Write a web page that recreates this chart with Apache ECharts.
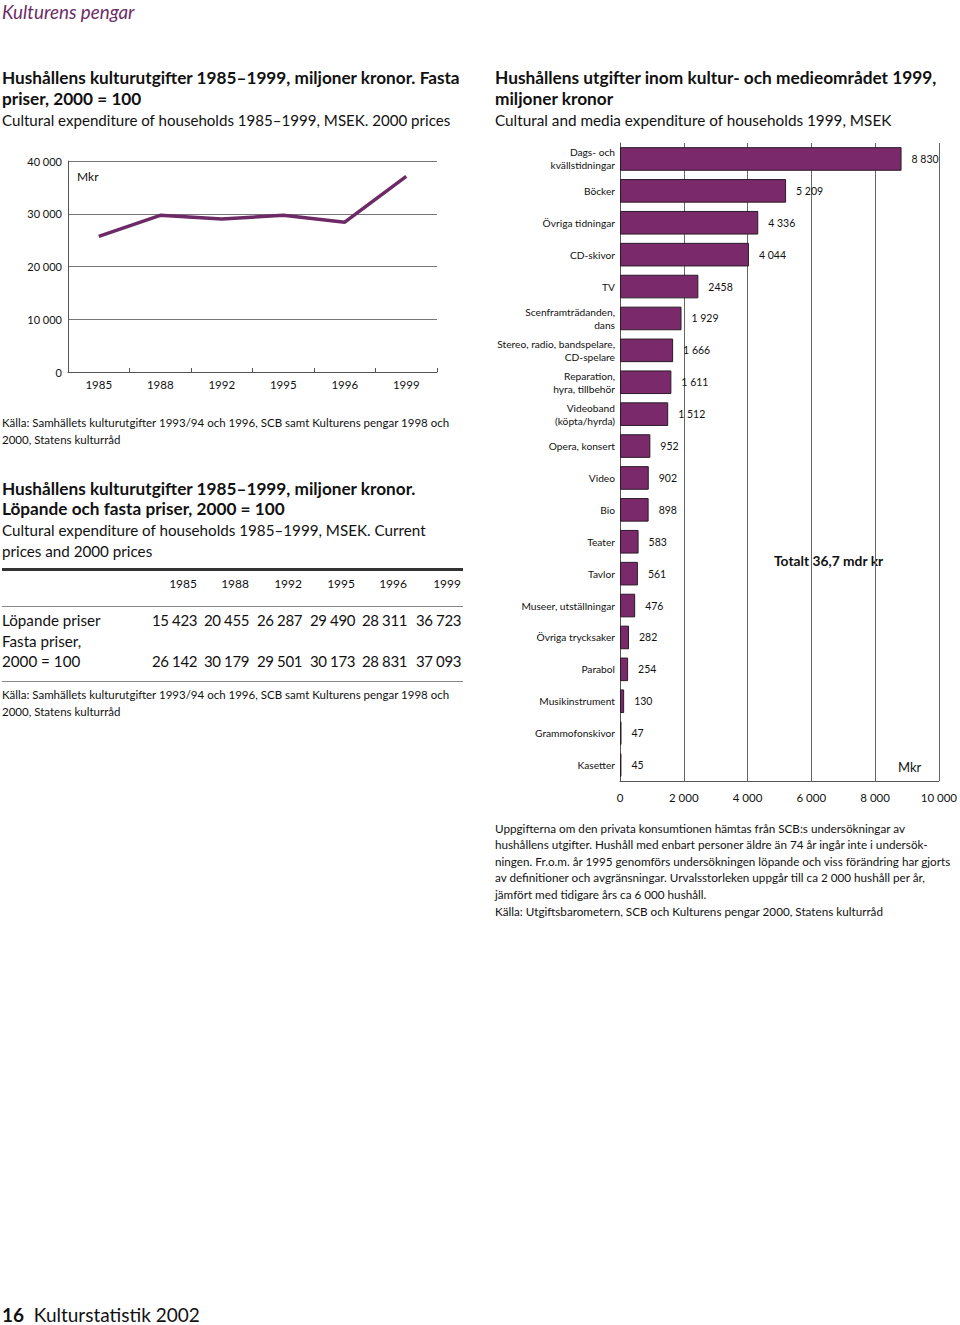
<!DOCTYPE html>
<html>
<head>
<meta charset="utf-8">
<script src="https://cdn.jsdelivr.net/npm/echarts@6/dist/echarts.min.js"></script>
<style>
  html, body { margin:0; padding:0; background:#fff; }
  #page { position:relative; width:960px; height:1325px; overflow:hidden; font-family: Lato, "Open Sans", sans-serif; color:#111; }
  #chart { position:absolute; left:0; top:0; width:960px; height:1325px; }
  .t { position:absolute; white-space:nowrap; }
  .b { font-weight:700; }
  .rule { position:absolute; left:2px; width:461px; background:#333; }
</style>
</head>
<body>
<div id="page">
  <div id="chart"></div>
  <div class="t" style="left:2px;top:0px;font-size:18.8px;line-height:24px;font-style:italic;color:#6c2c68;">Kulturens pengar</div>

  <div class="t" style="left:2px;top:66.5px;font-size:17.2px;line-height:21px;">
    <span class="b">Hushållens kulturutgifter 1985–1999, miljoner kronor. Fasta</span><br>
    <span class="b">priser, 2000 = 100</span><br>
    <span style="font-size:15.1px;">Cultural expenditure of households 1985–1999, MSEK. 2000 prices</span>
  </div>

  <div class="t" style="left:495px;top:66.5px;font-size:17.3px;line-height:21px;">
    <span class="b">Hushållens utgifter inom kultur- och medieområdet 1999,</span><br>
    <span class="b">miljoner kronor</span><br>
    <span style="font-size:15.3px;">Cultural and media expenditure of households 1999, MSEK</span>
  </div>

  <div class="t" style="left:2px;top:413.5px;font-size:11.5px;line-height:17px;">Källa: Samhällets kulturutgifter 1993/94 och 1996, SCB samt Kulturens pengar 1998 och<br>2000, Statens kulturråd</div>

  <div class="t" style="left:2px;top:478.5px;font-size:17.2px;line-height:20.7px;">
    <span class="b">Hushållens kulturutgifter 1985–1999, miljoner kronor.</span><br>
    <span class="b">Löpande och fasta priser, 2000 = 100</span><br>
    <span style="font-size:15.2px;">Cultural expenditure of households 1985–1999, MSEK. Current</span><br>
    <span style="font-size:15.2px;">prices and 2000 prices</span>
  </div>

  <div class="rule" style="top:567.5px;height:3px;"></div>
  <div class="rule" style="top:605.5px;height:1px;background:#888;"></div>
  <div class="rule" style="top:680.5px;height:1px;background:#888;"></div>
  <div id="table"></div>

  <div class="t" style="left:2px;top:685.5px;font-size:11.5px;line-height:17px;">Källa: Samhällets kulturutgifter 1993/94 och 1996, SCB samt Kulturens pengar 1998 och<br>2000, Statens kulturråd</div>

  <div class="t" style="left:495px;top:819.7px;font-size:11.7px;line-height:16.6px;">Uppgifterna om den privata konsumtionen hämtas från SCB:s undersökningar av<br>hushållens utgifter. Hushåll med enbart personer äldre än 74 år ingår inte i undersök-<br>ningen. Fr.o.m. år 1995 genomförs undersökningen löpande och viss förändring har gjorts<br>av definitioner och avgränsningar. Urvalsstorleken uppgår till ca 2 000 hushåll per år,<br>jämfört med tidigare års ca 6 000 hushåll.<br>Källa: Utgiftsbarometern, SCB och Kulturens pengar 2000, Statens kulturråd</div>

  <div class="t" style="left:2px;top:1305px;font-size:19px;line-height:20px;"><span class="b">16</span>&nbsp; Kulturstatistik 2002</div>
</div>
<script>
// ---- Data ----
const lineYears = ['1985', '1988', '1992', '1995', '1996', '1999'];
const lineValues = [25700, 29700, 29000, 29700, 28400, 37100];
const lineYTicks = [0, 10000, 20000, 30000, 40000];

const barCategories = [
  'Dags- och\nkvällstidningar', 'Böcker', 'Övriga tidningar', 'CD-skivor', 'TV',
  'Scenframträdanden,\ndans', 'Stereo, radio, bandspelare,\nCD-spelare', 'Reparation,\nhyra, tillbehör',
  'Videoband\n(köpta/hyrda)', 'Opera, konsert', 'Video', 'Bio', 'Teater', 'Tavlor',
  'Museer, utställningar', 'Övriga trycksaker', 'Parabol', 'Musikinstrument', 'Grammofonskivor', 'Kasetter'
];
const barValues = [8830, 5209, 4336, 4044, 2458, 1929, 1666, 1611, 1512, 952, 902, 898, 583, 561, 476, 282, 254, 130, 47, 45];
const barLabels = ['8 830', '5 209', '4 336', '4 044', '2458', '1 929', '1 666', '1 611', '1 512', '952', '902', '898', '583', '561', '476', '282', '254', '130', '47', '45'];
const barXTicks = [0, 2000, 4000, 6000, 8000, 10000];

const tableYears = ['1985', '1988', '1992', '1995', '1996', '1999'];
const currentPrices = [15423, 20455, 26287, 29490, 28311, 36723];
const fixedPrices = [26142, 30179, 29501, 30173, 28831, 37093];

// ---- helpers ----
function sp(n) { return String(n).replace(/\B(?=(\d{3})+(?!\d))/g, ' '); }

// ---- table ----
(function () {
  const t = document.getElementById('table');
  const rights = [197, 249, 302, 355, 407, 461];
  const num = 'font-size:15px;line-height:20px;letter-spacing:-0.4px;';
  let html = '';
  tableYears.forEach((y, i) => {
    html += `<div class="t" style="right:${960 - rights[i]}px;top:576px;font-size:12px;line-height:16px;">${y}</div>`;
    html += `<div class="t" style="right:${960 - rights[i]}px;top:610px;${num}">${sp(currentPrices[i])}</div>`;
    html += `<div class="t" style="right:${960 - rights[i]}px;top:651px;${num}">${sp(fixedPrices[i])}</div>`;
  });
  const lab = 'font-size:15.2px;line-height:20px;';
  html += `<div class="t" style="left:2px;top:610px;${lab}">Löpande priser</div>`;
  html += `<div class="t" style="left:2px;top:631px;${lab}">Fasta priser,</div>`;
  html += `<div class="t" style="left:2px;top:651px;${lab}">2000 = 100</div>`;
  t.innerHTML = html;
})();

// ---- charts ----
const FONT = 'Lato, "Open Sans", sans-serif';
const PURPLE = '#7a2a6a';
const chart = echarts.init(document.getElementById('chart'), null, { renderer: 'svg' });
chart.setOption({
  animation: false,
  textStyle: { fontFamily: FONT, color: '#111' },
  grid: [
    { left: 68, top: 161, width: 369, height: 211, containLabel: false },
    { left: 620, top: 143, width: 321, height: 638, containLabel: false }
  ],
  xAxis: [
    {
      gridIndex: 0, type: 'category', data: lineYears, boundaryGap: true,
      axisLine: { lineStyle: { color: '#555', width: 1 } },
      axisTick: { show: true, inside: true, length: 4, lineStyle: { color: '#555' } },
      axisLabel: { fontSize: 11.5, color: '#111', margin: 6, fontFamily: FONT },
      splitLine: { show: false }
    },
    {
      gridIndex: 1, type: 'value', min: barXTicks[0], max: barXTicks[barXTicks.length - 1], interval: 2000,
      axisLine: { show: true, lineStyle: { color: '#555', width: 1 } },
      axisTick: { show: false },
      axisLabel: { fontSize: 11.5, color: '#111', margin: 10, fontFamily: FONT, formatter: v => sp(v) },
      splitLine: { show: true, lineStyle: { color: '#666', width: 1 } }
    }
  ],
  yAxis: [
    {
      gridIndex: 0, type: 'value', min: lineYTicks[0], max: lineYTicks[lineYTicks.length - 1], interval: 10000,
      axisLine: { show: true, lineStyle: { color: '#555', width: 1 } },
      axisTick: { show: false },
      axisLabel: { fontSize: 11, color: '#111', margin: 6, fontFamily: FONT, formatter: v => sp(v) },
      splitLine: { show: true, lineStyle: { color: '#777', width: 1 } }
    },
    {
      gridIndex: 1, type: 'category', data: barCategories, inverse: true,
      axisLine: { show: true, lineStyle: { color: '#555', width: 1 } },
      axisTick: { show: false },
      axisLabel: { fontSize: 10.2, lineHeight: 13, color: '#111', margin: 5, fontFamily: FONT, align: 'right' },
      splitLine: { show: false }
    }
  ],
  series: [
    {
      type: 'line', xAxisIndex: 0, yAxisIndex: 0, data: lineValues,
      symbol: 'none', lineStyle: { color: '#6e2a66', width: 3.5 }
    },
    {
      type: 'bar', xAxisIndex: 1, yAxisIndex: 1, data: barValues,
      barCategoryGap: '26%',
      itemStyle: { color: PURPLE, borderColor: '#2a1a28', borderWidth: 1 },
      label: {
        show: true, position: 'right', distance: 10, fontSize: 10.5, color: '#111', fontFamily: FONT,
        formatter: p => barLabels[p.dataIndex]
      }
    }
  ],
  graphic: [
    { type: 'text', left: 77, top: 170, style: { text: 'Mkr', fontSize: 12, fill: '#111', fontFamily: FONT } },
    { type: 'text', left: 774, top: 553, style: { text: 'Totalt 36,7 mdr kr', fontSize: 13.8, fontWeight: 'bold', fill: '#111', fontFamily: FONT } },
    { type: 'text', left: 898, top: 760, style: { text: 'Mkr', fontSize: 13, fill: '#111', fontFamily: FONT } }
  ]
});
</script>
</body>
</html>
